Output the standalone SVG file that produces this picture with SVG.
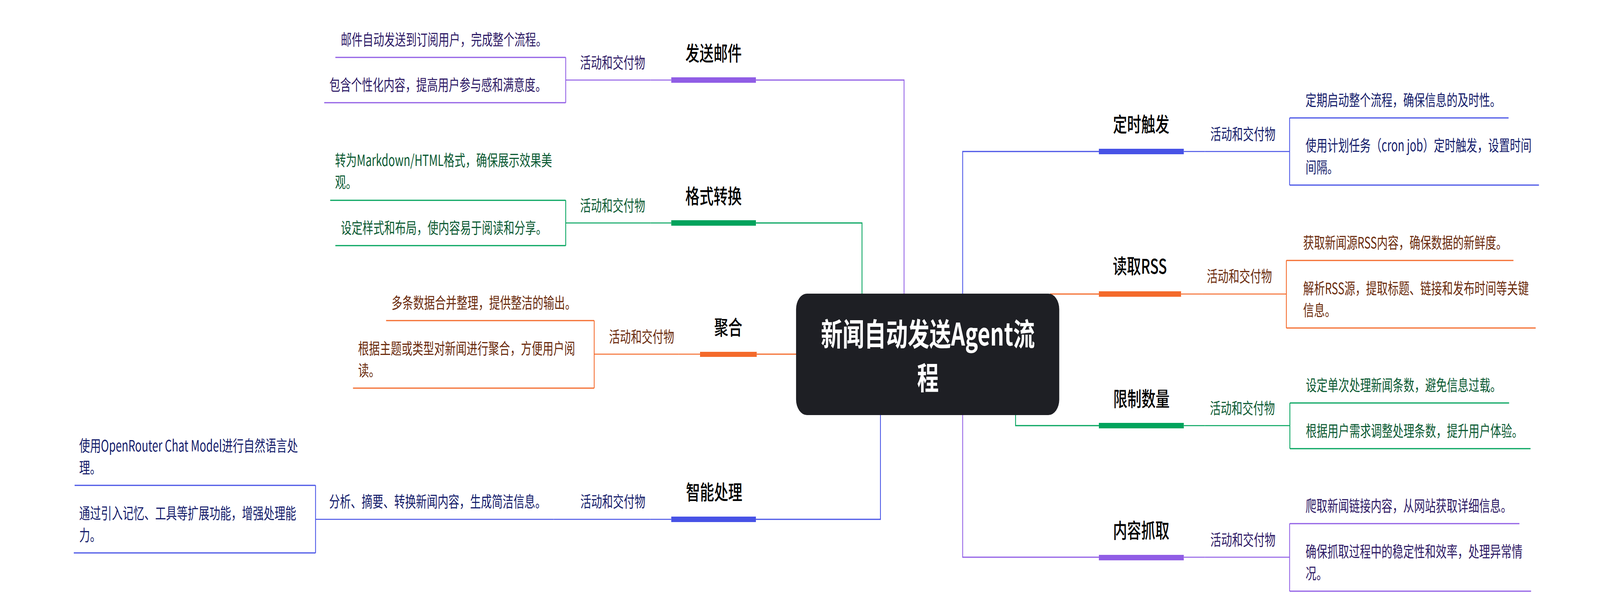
<svg xmlns="http://www.w3.org/2000/svg" width="5897" height="1575" viewBox="0 0 5897 1575" preserveAspectRatio="none" style="width:100vw;height:100vh;display:block">
<style>
text{font-family:"Noto Sans CJK SC","Noto Sans",sans-serif}
.leaf{font-size:40px}
.topic{font-size:52px;font-weight:500;fill:#000;text-anchor:middle}
.title{font-size:80px;font-weight:700;fill:#fff;text-anchor:middle}
.c{fill:none;stroke-width:3;stroke-linecap:butt;stroke-linejoin:miter}
.u{stroke-width:3}
.a{stroke-width:2.5}
.sp{stroke:#905de5}.sb{stroke:#4752e6}.so{stroke:#f46a2b}.sg{stroke:#00a35c}
.fp{fill:#905de5}.fb{fill:#4752e6}.fo{fill:#f46a2b}.fg{fill:#00a35c}
.tp{fill:#2e1a66}.tb{fill:#141c6b}.to{fill:#6b2b0c}.tg{fill:#0b5a33}
</style>
<rect x="0" y="0" width="5897" height="1575" fill="#ffffff"/>
<g id="connectors">
<path class="c sp" d="M3332,760 V205 H2786"/>
<path class="c sg" d="M3177,760 V571 H2786"/>
<path class="c sb" d="M3548,760 V388 H4050"/>
<path class="c so" d="M3870,753 H4050"/>
<path class="c so" d="M2789,907 H2940"/>
<path class="c sb" d="M3245,1055 V1330 H2786"/>
<path class="c sp" d="M3548,1055 V1427 H4050"/>
<path class="c sg" d="M3743,1055 V1090 H4050"/>
<path class="c a sp" d="M2474,205 H2398"/>
<path class="c a sg" d="M2474,571 H2398"/>
<path class="c a so" d="M2580,907 H2502"/>
<path class="c a sb" d="M2474,1330 H2396"/>
<path class="c a sb" d="M4363,388 H4441"/>
<path class="c a so" d="M4353,753 H4430"/>
<path class="c a sg" d="M4363,1090 H4441"/>
<path class="c a sp" d="M4363,1427 H4441"/>
<path class="c sp" d="M2085,147 V263"/>
<path class="c sg" d="M2085,513 V629"/>
<path class="c so" d="M2190,821 V994"/>
<path class="c sb" d="M1163,1243 V1416"/>
<path class="c sb" d="M4753,302 V474"/>
<path class="c so" d="M4741,667 V840"/>
<path class="c sg" d="M4754,1032 V1149"/>
<path class="c sp" d="M4753,1341 V1514"/>
</g>
<g id="center">
<rect x="2934" y="752" width="970" height="311" rx="40" fill="#1e1f24"/>
<text class="title" x="3420" y="885">新闻自动发送Agent流</text>
<text class="title" x="3420" y="997">程</text>
</g>
<g id="topic-email">
<rect class="fp" x="2474" y="198" width="312" height="14"/>
<text class="topic" x="2630" y="156">发送邮件</text>
</g>
<g id="act-email">
<line class="a sp" x1="2085" y1="205" x2="2398" y2="205"/>
<text class="leaf tp" x="2138" y="175">活动和交付物</text>
</g>
<g id="leaf-email-1">
<line class="u sp" x1="1236" y1="147" x2="2085" y2="147"/>
<text class="leaf tp" x="1256" y="116">邮件自动发送到订阅用户，完成整个流程。</text>
</g>
<g id="leaf-email-2">
<line class="u sp" x1="1195" y1="263" x2="2085" y2="263"/>
<text class="leaf tp" x="1214" y="232">包含个性化内容，提高用户参与感和满意度。</text>
</g>
<g id="topic-format">
<rect class="fg" x="2474" y="564" width="312" height="14"/>
<text class="topic" x="2630" y="522">格式转换</text>
</g>
<g id="act-format">
<line class="a sg" x1="2085" y1="571" x2="2398" y2="571"/>
<text class="leaf tg" x="2138" y="541">活动和交付物</text>
</g>
<g id="leaf-format-1">
<line class="u sg" x1="1217" y1="513" x2="2085" y2="513"/>
<text class="leaf tg" x="1235" y="425">转为Markdown/HTML格式，确保展示效果美<tspan x="1235" dy="56">观。</tspan></text>
</g>
<g id="leaf-format-2">
<line class="u sg" x1="1236" y1="629" x2="2085" y2="629"/>
<text class="leaf tg" x="1256" y="598">设定样式和布局，使内容易于阅读和分享。</text>
</g>
<g id="topic-aggregate">
<rect class="fo" x="2580" y="901" width="209" height="13"/>
<text class="topic" x="2684" y="858">聚合</text>
</g>
<g id="act-aggregate">
<line class="a so" x1="2190" y1="907" x2="2502" y2="907"/>
<text class="leaf to" x="2245" y="877">活动和交付物</text>
</g>
<g id="leaf-aggregate-1">
<line class="u so" x1="1423" y1="821" x2="2190" y2="821"/>
<text class="leaf to" x="1443" y="790">多条数据合并整理，提供整洁的输出。</text>
</g>
<g id="leaf-aggregate-2">
<line class="u so" x1="1301" y1="994" x2="2190" y2="994"/>
<text class="leaf to" x="1320" y="907">根据主题或类型对新闻进行聚合，方便用户阅<tspan x="1320" dy="56">读。</tspan></text>
</g>
<g id="topic-smart">
<rect class="fb" x="2474" y="1323" width="312" height="14"/>
<text class="topic" x="2632" y="1280">智能处理</text>
</g>
<g id="act-smart">
<line class="a sb" x1="2041" y1="1330" x2="2396" y2="1330"/>
<text class="leaf tb" x="2139" y="1299">活动和交付物</text>
</g>
<g id="mid-smart">
<line class="a sb" x1="1163" y1="1330" x2="2041" y2="1330"/>
<text class="leaf tb" x="1213" y="1299">分析、摘要、转换新闻内容，生成简洁信息。</text>
</g>
<g id="leaf-smart-1">
<line class="u sb" x1="275" y1="1243" x2="1163" y2="1243"/>
<text class="leaf tb" x="292" y="1156">使用OpenRouter Chat Model进行自然语言处<tspan x="292" dy="56">理。</tspan></text>
</g>
<g id="leaf-smart-2">
<line class="u sb" x1="272" y1="1416" x2="1163" y2="1416"/>
<text class="leaf tb" x="292" y="1329">通过引入记忆、工具等扩展功能，增强处理能<tspan x="292" dy="56">力。</tspan></text>
</g>
<g id="topic-timer">
<rect class="fb" x="4050" y="381" width="313" height="14"/>
<text class="topic" x="4206" y="338">定时触发</text>
</g>
<g id="act-timer">
<line class="a sb" x1="4441" y1="388" x2="4753" y2="388"/>
<text class="leaf tb" x="4461" y="358">活动和交付物</text>
</g>
<g id="leaf-timer-1">
<line class="u sb" x1="4753" y1="302" x2="5560" y2="302"/>
<text class="leaf tb" x="4812" y="271">定期启动整个流程，确保信息的及时性。</text>
</g>
<g id="leaf-timer-2">
<line class="u sb" x1="4753" y1="474" x2="5672" y2="474"/>
<text class="leaf tb" x="4812" y="387">使用计划任务（cron job）定时触发，设置时间<tspan x="4812" dy="56">间隔。</tspan></text>
</g>
<g id="topic-rss">
<rect class="fo" x="4050" y="746" width="303" height="14"/>
<text class="topic" x="4201" y="701">读取RSS</text>
</g>
<g id="act-rss">
<line class="a so" x1="4430" y1="753" x2="4741" y2="753"/>
<text class="leaf to" x="4448" y="722">活动和交付物</text>
</g>
<g id="leaf-rss-1">
<line class="u so" x1="4741" y1="667" x2="5578" y2="667"/>
<text class="leaf to" x="4803" y="636">获取新闻源RSS内容，确保数据的新鲜度。</text>
</g>
<g id="leaf-rss-2">
<line class="u so" x1="4741" y1="840" x2="5660" y2="840"/>
<text class="leaf to" x="4803" y="753">解析RSS源，提取标题、链接和发布时间等关键<tspan x="4803" dy="56">信息。</tspan></text>
</g>
<g id="topic-limit">
<rect class="fg" x="4050" y="1083" width="313" height="14"/>
<text class="topic" x="4207" y="1041">限制数量</text>
</g>
<g id="act-limit">
<line class="a sg" x1="4441" y1="1090" x2="4754" y2="1090"/>
<text class="leaf tg" x="4459" y="1060">活动和交付物</text>
</g>
<g id="leaf-limit-1">
<line class="u sg" x1="4754" y1="1032" x2="5562" y2="1032"/>
<text class="leaf tg" x="4813" y="1001">设定单次处理新闻条数，避免信息过载。</text>
</g>
<g id="leaf-limit-2">
<line class="u sg" x1="4754" y1="1149" x2="5641" y2="1149"/>
<text class="leaf tg" x="4813" y="1118">根据用户需求调整处理条数，提升用户体验。</text>
</g>
<g id="topic-crawl">
<rect class="fp" x="4050" y="1421" width="313" height="14"/>
<text class="topic" x="4206" y="1378">内容抓取</text>
</g>
<g id="act-crawl">
<line class="a sp" x1="4441" y1="1427" x2="4753" y2="1427"/>
<text class="leaf tp" x="4461" y="1397">活动和交付物</text>
</g>
<g id="leaf-crawl-1">
<line class="u sp" x1="4753" y1="1341" x2="5600" y2="1341"/>
<text class="leaf tp" x="4812" y="1310">爬取新闻链接内容，从网站获取详细信息。</text>
</g>
<g id="leaf-crawl-2">
<line class="u sp" x1="4753" y1="1514" x2="5643" y2="1514"/>
<text class="leaf tp" x="4812" y="1427">确保抓取过程中的稳定性和效率，处理异常情<tspan x="4812" dy="56">况。</tspan></text>
</g>
</svg>
